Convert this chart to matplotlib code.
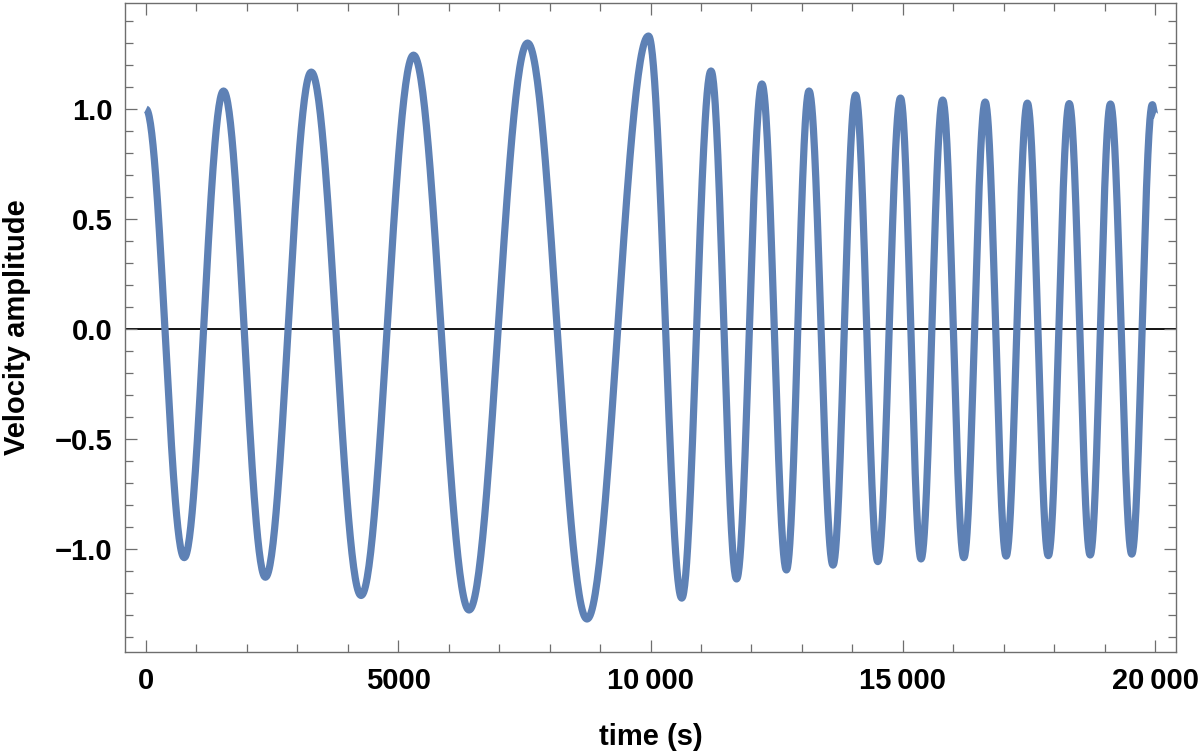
import numpy as np
import matplotlib
matplotlib.use("Agg")
import matplotlib.pyplot as plt
from matplotlib.ticker import MultipleLocator, FuncFormatter

# Extrema of the velocity curve (time in s, amplitude)
ext_time = [0, 757, 1536, 2366, 3275, 4263, 5302, 6403, 7563, 8741, 9960,
            10619, 11199, 11706, 12208, 12694, 13142, 13617, 14065, 14506,
            14955, 15362, 15791, 16211, 16634, 17049, 17470, 17885, 18300,
            18715, 19117, 19539, 19947, 20000]
ext_value = [1.0, -1.039, 1.082, -1.128, 1.168, -1.211, 1.245, -1.277, 1.30,
             -1.318, 1.332, -1.223, 1.173, -1.136, 1.114, -1.095, 1.082,
             -1.073, 1.064, -1.057, 1.05, -1.045, 1.041, -1.039, 1.032,
             -1.032, 1.027, -1.03, 1.025, -1.027, 1.023, -1.023, 1.02, 0.97]

x_major = [0, 5000, 10000, 15000, 20000]
y_major = [-1.0, -0.5, 0.0, 0.5, 1.0]
x_label = "time (s)"
y_label = "Velocity amplitude"

# Smooth half-wave segments between successive extrema
ts, vs = [], []
for i in range(len(ext_time) - 1):
    t0, t1 = ext_time[i], ext_time[i + 1]
    v0, v1 = ext_value[i], ext_value[i + 1]
    s = np.linspace(0, 1, 60, endpoint=False)
    w = (1 - np.cos(np.pi * s)) / 2
    ts.extend(t0 + (t1 - t0) * s)
    vs.extend(v0 + (v1 - v0) * w)
ts.append(ext_time[-1]); vs.append(ext_value[-1])

plt.rcParams['font.family'] = ['Liberation Sans', 'DejaVu Sans']

fig = plt.figure(figsize=(12, 7.53), dpi=100)
ax = fig.add_axes([0.1042, 0.1341, 0.8758, 0.8619])

ax.axhline(0, color='black', lw=1.3, zorder=1)
ax.plot(ts, vs, color='#5E81B5', lw=5.2, solid_capstyle='butt',
        solid_joinstyle='round', zorder=2)

ax.set_xlim(-416, 20416)
ax.set_ylim(-1.468, 1.482)

ax.set_xticks(x_major)
ax.set_yticks(y_major)
ax.xaxis.set_minor_locator(MultipleLocator(1000))
ax.yaxis.set_minor_locator(MultipleLocator(0.1))


def xfmt(v, pos):
    n = int(round(v))
    if abs(n) >= 10000:
        return f"{n:,}".replace(",", "\u2009")
    return str(n)


def yfmt(v, pos):
    s = f"{abs(v):.1f}"
    return ("\u2212" + s) if v < -1e-9 else s


ax.xaxis.set_major_formatter(FuncFormatter(xfmt))
ax.yaxis.set_major_formatter(FuncFormatter(yfmt))

frame_col = '#6e6e6e'
for sp in ax.spines.values():
    sp.set_color(frame_col)
    sp.set_linewidth(1.0)

ax.tick_params(which='both', direction='in', top=True, right=True,
               color=frame_col, width=0.9)
ax.tick_params(which='major', length=8.5)
ax.tick_params(which='minor', length=5.5)
ax.tick_params(axis='x', which='major', pad=11, labelsize=21)
ax.tick_params(axis='y', which='major', pad=9, labelsize=21)
for lab in ax.get_xticklabels() + ax.get_yticklabels():
    lab.set_fontweight('bold')

ax.set_xlabel(x_label, fontsize=21, fontweight='bold', labelpad=20)
ax.set_ylabel(y_label, fontsize=21, fontweight='bold', labelpad=17)

fig.savefig("out.png", dpi=100)
